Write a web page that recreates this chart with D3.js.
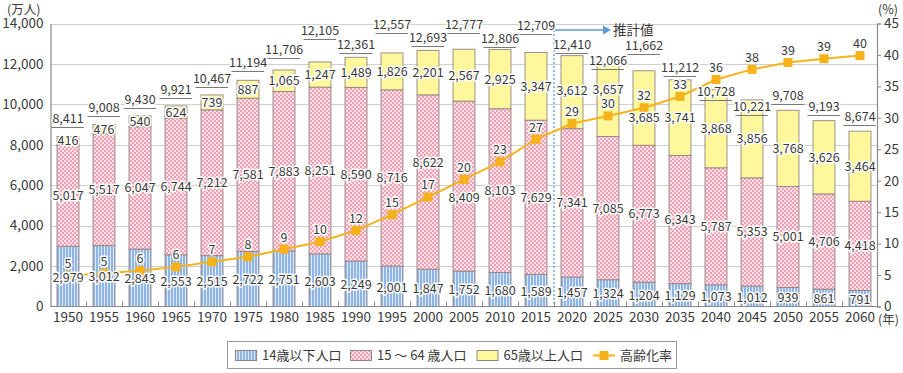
<!DOCTYPE html>
<html><head><meta charset="utf-8">
<script src="https://cdn.jsdelivr.net/npm/d3@7"></script>
<style>
body{margin:0;background:#fff}
svg{display:block;font-family:"Noto Sans CJK JP","Noto Sans",sans-serif}
</style>
</head><body><svg id="c" width="903" height="373"></svg>
<script>
// ---- data ----
const years = [1950,1955,1960,1965,1970,1975,1980,1985,1990,1995,2000,2005,2010,2015,2020,2025,2030,2035,2040,2045,2050,2055,2060];
const under14 = [2979,3012,2843,2553,2515,2722,2751,2603,2249,2001,1847,1752,1680,1589,1457,1324,1204,1129,1073,1012,939,861,791];
const age15to64 = [5017,5517,6047,6744,7212,7581,7883,8251,8590,8716,8622,8409,8103,7629,7341,7085,6773,6343,5787,5353,5001,4706,4418];
const over65 = [416,476,540,624,739,887,1065,1247,1489,1826,2201,2567,2925,3347,3612,3657,3685,3741,3868,3856,3768,3626,3464];
const totals = [8411,9008,9430,9921,10467,11194,11706,12105,12361,12557,12693,12777,12806,12709,12410,12066,11662,11212,10728,10221,9708,9193,8674];
const agingRate = [4.9,5.3,5.7,6.3,7.1,7.9,9.1,10.3,12.1,14.6,17.4,20.2,23.0,26.6,29.1,30.3,31.6,33.4,36.1,37.7,38.8,39.4,39.9];
const leftTicks = [0,2000,4000,6000,8000,10000,12000,14000];
const rightTicks = [0,5,10,15,20,25,30,35,40,45];
const seriesNames = ["14歳以下人口","15 ～ 64 歳人口","65歳以上人口","高齢化率"];
const projectionStart = 2020;
const projectionLabel = "推計値";

// ---- layout tweaks (label nudges, px) ----
const totalLabelDy = [-9,-8,-8,-8,-7.5,-9,-12,-22.5,-4,-20,-4.5,-16.5,-3,-18.5,-3,6,-17,-3.5,10,15,-6.5,-5.5,-6];
const midLabelDy = {10:-19, 11:12};
const topLabelDy = {14:-2, 15:-10, 16:10};

const svg = d3.select('#c');
const x = d3.scaleBand().domain(years).range([50,878]).paddingInner(0.39).paddingOuter(0.195);
const y = d3.scaleLinear().domain([0,14000]).range([306.5,23.5]);
const yR = d3.scaleLinear().domain([0,45]).range([306.5,23.5]);
const txt = '#3a3a3a';

// patterns
const defs = svg.append('defs');
const pb = defs.append('pattern').attr('id','pBlue').attr('patternUnits','userSpaceOnUse').attr('width',3).attr('height',3);
pb.append('rect').attr('width',3).attr('height',3).attr('fill','#8fb5e5');
pb.append('rect').attr('x',2).attr('width',1).attr('height',3).attr('fill','#dde9f8');
const pp = defs.append('pattern').attr('id','pPink').attr('patternUnits','userSpaceOnUse').attr('width',4).attr('height',4);
pp.append('rect').attr('width',4).attr('height',4).attr('fill','#f29fb4');
pp.append('rect').attr('width',2).attr('height',2).attr('fill','#fde3ea');
pp.append('rect').attr('x',2).attr('y',2).attr('width',2).attr('height',2).attr('fill','#fde3ea');
const fills = ['url(#pBlue)','url(#pPink)','#fff79c'];

// gridlines
svg.append('g').selectAll('line').data(leftTicks.slice(1)).join('line')
  .attr('x1',50.5).attr('x2',877).attr('y1',d=>Math.round(y(d))+0.5).attr('y2',d=>Math.round(y(d))+0.5)
  .attr('stroke','#cfcfcf').attr('stroke-width',1);

// stacked bars
const rows = years.map((yr,i)=>({year:yr,u:under14[i],m:age15to64[i],o:over65[i]}));
const stack = d3.stack().keys(['u','m','o'])(rows);
const bw = x.bandwidth();
stack.forEach((layer,li)=>{
  svg.append('g').selectAll('rect').data(layer).join('rect')
    .attr('x',d=>x(d.data.year)).attr('width',bw)
    .attr('y',d=>y(d[1])).attr('height',d=>y(d[0])-y(d[1]))
    .attr('fill',fills[li]).attr('stroke','#8f8684').attr('stroke-width',0.9);
});

// projection divider
const bx = x(projectionStart) - x.step()*x.paddingInner()/2;
svg.append('line').attr('x1',bx).attr('x2',bx).attr('y1',30).attr('y2',306)
  .attr('stroke','#6fa8dc').attr('stroke-width',1.5).attr('stroke-dasharray','2,2');
svg.append('line').attr('x1',bx).attr('x2',604).attr('y1',30).attr('y2',30)
  .attr('stroke','#5b9bd5').attr('stroke-width',1.3);
svg.append('path').attr('d',`M603,25.5L611,30L603,34.5Z`).attr('fill','#5b9bd5');
svg.append('text').attr('x',613).attr('y',30).attr('dy','0.35em').attr('font-size',13.5).attr('fill',txt).text(projectionLabel);

// axes
const axL = svg.append('g').attr('transform','translate(50.5,0)')
  .call(d3.axisLeft(y).tickValues(leftTicks).tickSize(0).tickPadding(7).tickFormat(d3.format(',')));
const axR = svg.append('g').attr('transform','translate(877,0)')
  .call(d3.axisRight(yR).tickValues(rightTicks).tickSize(4).tickPadding(3));
const axB = svg.append('g').attr('transform','translate(0,306.5)')
  .call(d3.axisBottom(x).tickSize(0).tickPadding(6));
[axL,axR,axB].forEach(a=>{
  a.select('.domain').attr('stroke','#8a8a8a').attr('stroke-width',1.2);
  a.selectAll('line').attr('stroke','#8a8a8a');
  a.selectAll('text').attr('font-size',13.5).attr('fill',txt).attr('font-family','"Noto Sans CJK JP","Noto Sans",sans-serif');
});
axB.select('.domain').attr('d','M50.5,0H877');
// boundary ticks (inward)
svg.append('g').selectAll('line').data(years.slice(1)).join('line')
  .attr('x1',d=>Math.round(x(d)-x.step()*x.paddingInner()/2)+0.5)
  .attr('x2',d=>Math.round(x(d)-x.step()*x.paddingInner()/2)+0.5)
  .attr('y1',301.5).attr('y2',306.5).attr('stroke','#8a8a8a');

// unit labels
svg.append('text').attr('x',7).attr('y',9.5).attr('dy','0.35em').attr('font-size',12.5).attr('fill',txt).text('(万人)');
svg.append('text').attr('x',878).attr('y',9.5).attr('dy','0.35em').attr('font-size',12.5).attr('fill',txt).text('(%)');
svg.append('text').attr('x',878).attr('y',319.5).attr('dy','0.35em').attr('font-size',12.5).attr('fill',txt).text('(年)');

// aging rate line
const lineColor = '#f6b21a';
const line = d3.line().x((d,i)=>x(years[i])+bw/2).y(d=>yR(d));
svg.append('path').datum(agingRate).attr('d',line).attr('fill','none').attr('stroke',lineColor).attr('stroke-width',2);
svg.append('g').selectAll('rect').data(agingRate).join('rect')
  .attr('x',(d,i)=>x(years[i])+bw/2-4.5).attr('y',d=>yR(d)-4.5).attr('width',9).attr('height',9).attr('fill',lineColor);

// labels
const fmt = d3.format(',');
const lab = svg.append('g').attr('font-size',12.5).attr('fill',txt).attr('text-anchor','middle')
  .attr('stroke','#fff').attr('stroke-width',3).attr('paint-order','stroke').attr('stroke-linejoin','round');
years.forEach((yr,i)=>{
  const cx = x(yr)+bw/2;
  const s0 = y(0), s1 = y(under14[i]), s2 = y(under14[i]+age15to64[i]), s3 = y(under14[i]+age15to64[i]+over65[i]);
  lab.append('text').attr('x',cx).attr('y',(s0+s1)/2+1).attr('dy','0.35em').text(fmt(under14[i]));
  lab.append('text').attr('x',cx).attr('y',(s1+s2)/2+(midLabelDy[i]||0)).attr('dy','0.35em').text(fmt(age15to64[i]));
  lab.append('text').attr('x',cx).attr('y',(s2+s3)/2+(topLabelDy[i]||0)).attr('dy','0.35em').text(fmt(over65[i]));
  const ul = Math.round(s3 + totalLabelDy[i])+0.5;
  lab.append('text').attr('x',cx).attr('y',ul-8.5).attr('dy','0.35em').text(fmt(totals[i]));
  svg.append('line').attr('x1',x(yr)-x.step()*x.paddingInner()/2+1.5).attr('x2',x(yr)+bw+x.step()*x.paddingInner()/2-2)
    .attr('y1',ul).attr('y2',ul).attr('stroke','#7a7a7a').attr('stroke-width',1);
  lab.append('text').attr('x',cx).attr('y',yR(agingRate[i])-12).attr('dy','0.35em').text(Math.round(agingRate[i]));
});

// legend
const lg = svg.append('g');
lg.append('rect').attr('x',227.5).attr('y',341.5).attr('width',449).attr('height',27).attr('fill','#fff').attr('stroke','#9a9a9a');
const legX = [235,350,476.5,593];
seriesNames.forEach((nm,i)=>{
  if(i<3){
    lg.append('rect').attr('x',legX[i]+0.5).attr('y',350.5).attr('width',21).attr('height',10)
      .attr('fill',fills[i]).attr('stroke','#8f8684');
  } else {
    lg.append('line').attr('x1',legX[i]).attr('x2',legX[i]+22).attr('y1',355.5).attr('y2',355.5).attr('stroke',lineColor).attr('stroke-width',2);
    lg.append('rect').attr('x',legX[i]+6.5).attr('y',351).attr('width',9).attr('height',9).attr('fill',lineColor);
  }
  lg.append('text').attr('x',legX[i]+27).attr('y',355.5).attr('dy','0.35em').attr('font-size',13).attr('fill',txt).text(nm);
});
</script>
</body></html>
